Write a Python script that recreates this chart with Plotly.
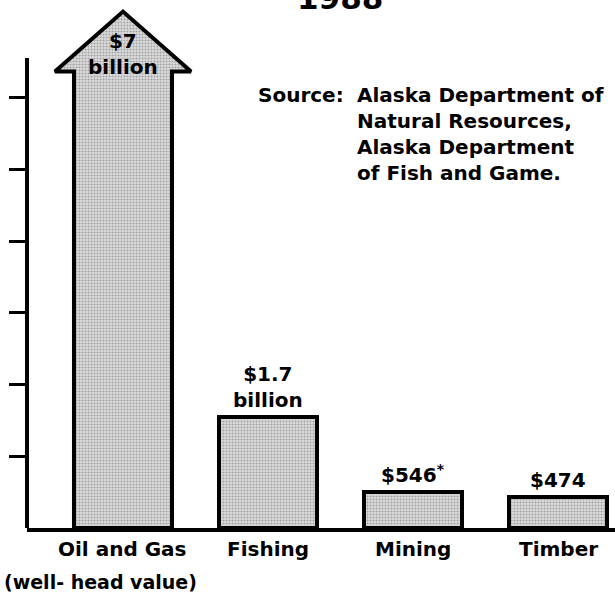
import plotly.graph_objects as go

# ---- data (values in millions of dollars, 1988) ----
categories = ["Oil and Gas", "Fishing", "Mining", "Timber"]
values = [7000, 1700, 546, 474]
value_labels = ["$7<br>billion", "$1.7<br>billion", "$546<sup>*</sup>", "$474"]
category_notes = ["(well- head value)", "", "", ""]
title_text = "1988"
source_label = "Source:"
source_lines = ["Alaska Department of", "Natural Resources,", "Alaska Department", "of Fish and Game."]
tick_values = [1100, 2200, 3300, 4400, 5500, 6600]

# ---- style ----
FONT = "DejaVu Sans"
BAR_W = 0.676
HEAD_HW = 0.469
HEAD_H = 920
FILL = "#c9c9c9"
PAT = dict(shape=".", bgcolor="#dcdcdc", fgcolor="#6a6a6a", size=3, solidity=0.38)
Y_MAX = 8098
AXIS_TOP = 7209
PLOT_L, PLOT_W, PLOT_B, PLOT_H = 27, 588, 528, 528


def px(xp):
    return (xp - PLOT_L) / PLOT_W


def py(yp):
    return (PLOT_B - yp) / PLOT_H


xpos = list(range(len(categories)))

fig = go.Figure()

# Oil & Gas drawn as an upward arrow (off-scale value)
c, v = xpos[0], values[0]
ax = [c - BAR_W / 2, c - BAR_W / 2, c - HEAD_HW, c, c + HEAD_HW, c + BAR_W / 2, c + BAR_W / 2, c - BAR_W / 2]
ay = [0, v, v, v + HEAD_H, v, v, 0, 0]
fig.add_trace(go.Scatter(
    x=ax, y=ay, mode="lines", fill="toself", fillcolor=FILL,
    fillpattern=PAT, line=dict(color="black", width=4), hoverinfo="skip",
    showlegend=False))

# other bars
fig.add_trace(go.Bar(
    x=xpos[1:], y=values[1:], width=BAR_W,
    marker=dict(color=FILL, line=dict(color="black", width=4), pattern=PAT),
    showlegend=False, hoverinfo="skip"))

bold = dict(family=FONT, size=20, color="black", weight="bold")
annotations = []
# value labels
annotations.append(dict(x=xpos[0], y=values[0], xref="x", yref="y", text=value_labels[0],
                        showarrow=False, yanchor="bottom", yshift=-9, font=bold))
for i in range(1, len(categories)):
    annotations.append(dict(x=xpos[i], y=values[i], xref="x", yref="y", text=value_labels[i],
                            showarrow=False, yanchor="bottom", yshift=3, font=bold))
# category labels
for i, cat in enumerate(categories):
    annotations.append(dict(x=xpos[i], y=0, xref="x", yref="y", text=cat,
                            showarrow=False, yanchor="middle", yshift=-21, font=bold))
    if category_notes[i]:
        annotations.append(dict(x=xpos[i], y=0, xref="x", yref="y", text=category_notes[i],
                                showarrow=False, yanchor="middle", yshift=-54, xshift=-22,
                                font=dict(family=FONT, size=19, color="black", weight="bold")))
# title (mostly cut off at top)
annotations.append(dict(x=px(340), y=1, xref="paper", yref="paper", text=title_text,
                        showarrow=False, yanchor="bottom", yshift=-18, xanchor="center",
                        font=dict(family=FONT, size=31, color="black", weight="bold")))
# source note
annotations.append(dict(x=px(256), y=py(95), xref="paper", yref="paper",
                        text=source_label, showarrow=False, xanchor="left", yanchor="middle",
                        font=bold))
annotations.append(dict(x=px(355), y=py(95), xref="paper", yref="paper",
                        text="<br>".join(source_lines), showarrow=False, xanchor="left",
                        yanchor="top", align="left", yshift=14, font=bold))

fig.update_layout(
    width=615, height=593,
    margin=dict(l=27, r=0, t=0, b=65),
    paper_bgcolor="white", plot_bgcolor="white",
    bargap=0,
    xaxis=dict(range=[-0.662, 3.393], showgrid=False, zeroline=False,
               showticklabels=False, ticks="", showline=True, linecolor="black",
               linewidth=4),
    yaxis=dict(range=[0, Y_MAX], showgrid=False, zeroline=False, showline=False,
               showticklabels=False, ticks="outside", ticklen=17, tickwidth=3,
               tickcolor="black", tickmode="array", tickvals=tick_values),
    shapes=[dict(type="line", xref="paper", yref="y", x0=0, x1=0, y0=0, y1=AXIS_TOP,
                 line=dict(color="black", width=4))],
    annotations=annotations,
    showlegend=False,
)

fig.write_html("out.html",
               config={"displayModeBar": False},
               post_script="document.body.style.margin='0';document.body.style.overflow='hidden';")
